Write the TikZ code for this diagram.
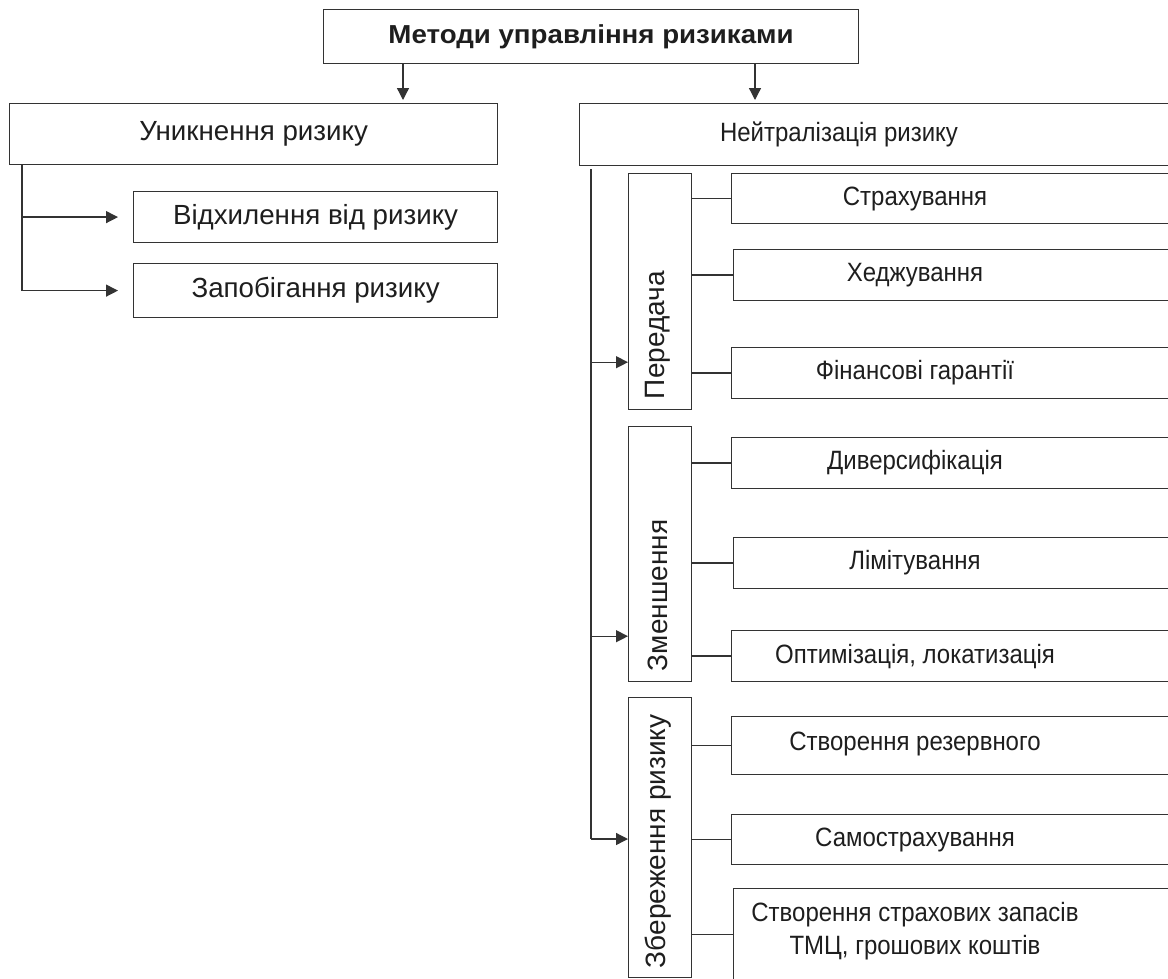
\documentclass[tikz,border=0pt]{standalone}
\usepackage{fontspec}
\setmainfont{Liberation Sans}
\newfontfamily\titlefont{Liberation Sans}[FakeStretch=1.065]
\newfontfamily\itemfont{Liberation Sans}[FakeStretch=0.905]
\usetikzlibrary{arrows.meta,calc}
\definecolor{framegray}{HTML}{333333}
\definecolor{textgray}{HTML}{1E1E1E}

\begin{document}
\begin{tikzpicture}[x=1pt,y=-1pt,
  box/.style={draw=framegray,line width=1.2pt,anchor=north west,inner sep=0pt,text=textgray,font=\fontsize{27.7}{32}\selectfont},
  txt/.style={text=textgray,align=center,font=\itemfont\fontsize{26.5}{33}\selectfont},
  vtxt/.style={text=textgray,rotate=90,anchor=west,inner sep=0pt,font=\fontsize{28}{32}\selectfont},
  link/.style={draw=framegray,line width=1.3pt},
  arr/.style={link,-{Triangle[length=12pt,width=12pt]}}]
  \useasboundingbox (0,0) rectangle (1168,978);
  \clip (0,0) rectangle (1168,978);

  \node[box,minimum width=535pt,minimum height=54pt,font=\titlefont\bfseries\fontsize{26}{30}\selectfont] (top) at (323,9) {Методи управління ризиками};
  \node[box,minimum width=488pt,minimum height=61pt] (avoid) at (9,103) {Уникнення ризику};
  \node[box,minimum width=364pt,minimum height=51pt] (decline) at (133,191) {Відхилення від ризику};
  \node[box,minimum width=364pt,minimum height=54pt] (prevent) at (133,263) {Запобігання ризику};
  \node[box,minimum width=620pt,minimum height=62pt] (neutral) at (579,103) {};
  \node[txt] (neutral-t) at ([xshift=260pt]neutral.west) {Нейтралізація ризику};

  \node[box,minimum width=63pt,minimum height=236pt] (transfer) at (628,173) {};
  \node[box,minimum width=63pt,minimum height=255pt] (reduce) at (628,426) {};
  \node[box,minimum width=63pt,minimum height=280pt] (retain) at (628,697) {};
  \node[vtxt] (transfer-t) at ([shift={(30,-11)}]transfer.south west) {Передача};
  \node[vtxt] (reduce-t) at ([shift={(30,-11)}]reduce.south west) {Зменшення};
  \node[vtxt] (retain-t) at ([shift={(30,-10)}]retain.south west) {Збереження ризику};

  \node[box,minimum width=470pt,minimum height=50pt] (insur) at (731,173) {};
  \node[box,minimum width=470pt,minimum height=51pt] (hedge) at (733,249) {};
  \node[box,minimum width=470pt,minimum height=51pt] (guar) at (731,347) {};
  \node[box,minimum width=470pt,minimum height=51pt] (divers) at (731,437) {};
  \node[box,minimum width=470pt,minimum height=51pt] (limit) at (733,537) {};
  \node[box,minimum width=470pt,minimum height=51pt] (optim) at (731,630) {};
  \node[box,minimum width=470pt,minimum height=58pt] (reserve) at (731,716) {};
  \node[box,minimum width=470pt,minimum height=50pt] (selfins) at (731,814) {};
  \node[box,minimum width=470pt,minimum height=92pt] (stock) at (733,888) {};
  \node[txt] (insur-t) at ([xshift=184pt]insur.west) {Страхування};
  \node[txt] (hedge-t) at ([xshift=182pt]hedge.west) {Хеджування};
  \node[txt] (guar-t) at ([xshift=184pt]guar.west) {Фінансові гарантії};
  \node[txt] (divers-t) at ([xshift=184pt]divers.west) {Диверсифікація};
  \node[txt] (limit-t) at ([xshift=182pt]limit.west) {Лімітування};
  \node[txt] (optim-t) at ([xshift=184pt]optim.west) {Оптимізація, локатизація};
  \node[txt] (reserve-t) at ([shift={(184,-2)}]reserve.west) {Створення резервного};
  \node[txt] (selfins-t) at ([xshift=184pt]selfins.west) {Самострахування};
  \node[txt] (stock-t) at ([shift={(182,-3)}]stock.west) {Створення страхових запасів\\ТМЦ, грошових коштів};

  \coordinate (l-out) at ([xshift=80pt]top.south west);
  \coordinate (r-out) at ([xshift=432pt]top.south west);
  \draw[arr,shorten >=3pt] (l-out) -- (l-out |- avoid.north);
  \draw[arr,shorten >=3pt] (r-out) -- (r-out |- neutral.north);

  \coordinate (l-trunk) at ([xshift=13pt]avoid.south west);
  \draw[link] (l-trunk) -- (l-trunk |- prevent.west);
  \draw[arr,shorten >=15pt] (l-trunk |- decline.west) -- (decline.west);
  \draw[arr,shorten >=15pt] (l-trunk |- prevent.west) -- (prevent.west);

  \coordinate (r-trunk) at ([shift={(12,3)}]neutral.south west);
  \coordinate (to-transfer) at ([yshift=48pt]transfer.south west);
  \coordinate (to-reduce) at ([yshift=46pt]reduce.south west);
  \coordinate (to-retain) at ([yshift=-142pt]retain.north west);
  \draw[link] (r-trunk) -- (r-trunk |- to-retain);
  \draw[arr] (r-trunk |- to-transfer) -- (to-transfer);
  \draw[arr] (r-trunk |- to-reduce) -- (to-reduce);
  \draw[arr] (r-trunk |- to-retain) -- (to-retain);

  \draw[link] (transfer.east |- insur.west) -- (insur.west);
  \draw[link] (transfer.east |- hedge.west) -- (hedge.west);
  \draw[link] (transfer.east |- guar.west) -- (guar.west);
  \draw[link] (reduce.east |- divers.west) -- (divers.west);
  \draw[link] (reduce.east |- limit.west) -- (limit.west);
  \draw[link] (reduce.east |- optim.west) -- (optim.west);
  \draw[link] (retain.east |- reserve.west) -- (reserve.west);
  \draw[link] (retain.east |- selfins.west) -- (selfins.west);
  \draw[link] (retain.east |- stock.west) -- (stock.west);
\end{tikzpicture}
\end{document}
